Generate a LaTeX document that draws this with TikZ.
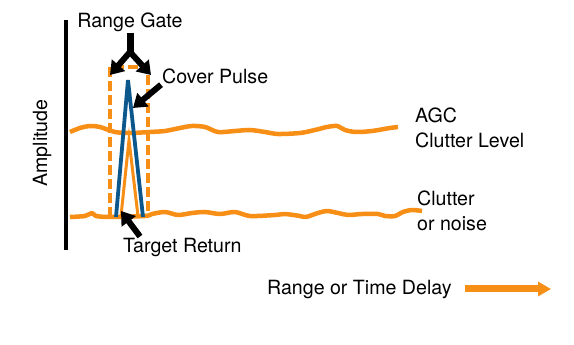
\documentclass[tikz,border=0pt]{standalone}
\usepackage{fontspec}
\setmainfont{TeX Gyre Heros}
\usetikzlibrary{arrows.meta}
\definecolor{gateorange}{RGB}{247,142,22}
\definecolor{pulseblue}{RGB}{12,88,140}
\begin{document}
\begin{tikzpicture}[x=1pt,y=1pt,
  lbl/.style={font=\fontsize{19.6}{24.5}\selectfont,inner sep=1pt,align=left},
  orangeline/.style={gateorange,line width=4.5pt,line join=round},
  fatarrow/.style={line width=6pt,-{Triangle[length=13pt,width=17pt]}}]
\useasboundingbox (0,0) rectangle (574,345);
% amplitude axis
\draw[line width=4pt] (66,325) -- (66,95);
\node[lbl,rotate=90] (amp) at (42,202) {Amplitude};
% clutter levels
\draw[orangeline] plot[smooth] coordinates {(70,213) (80,217) (90,219) (100,218) (115,213) (130,212) (150,213) (165,214) (180,217) (192,219) (205,218) (218,213) (235,214) (250,215) (265,213) (278,211) (300,212) (315,215) (327,218) (337,219) (345,215) (356,213) (372,214) (390,217) (398,218)};
\draw[orangeline] plot[smooth] coordinates {(70,128) (85,129) (92,132) (96,129) (110,128) (145,129) (152,131) (165,133) (178,130) (192,132) (205,133) (220,131) (235,133) (250,129) (275,130) (285,131) (300,129) (306,128) (318,132) (327,134) (338,132) (348,130) (362,131) (378,131) (385,129) (395,129) (403,133) (412,135) (422,134)};
% range gate
\draw[orangeline,dash pattern=on 10pt off 4pt] (110,128) -- (110,278) -- (148,278) -- (148,128);
% pulses
\draw[pulseblue,line width=3.8pt,line join=miter] (116,128) -- (128,265) -- (143,128);
\draw[gateorange,line width=3pt] (121,129) -- (129,205) -- (138,129);
% labels
\node[lbl] (gate) at (130,323) {Range Gate};
\node[lbl,anchor=west] (cover) at (161,269) {Cover Pulse};
\node[lbl,anchor=west] (target) at (122,98) {Target Return};
\node[lbl,anchor=west] (agc) at (414,217) {AGC\\Clutter Level};
\node[lbl,anchor=west] (clutter) at (416,134) {Clutter\\or noise};
\node[lbl,anchor=west] (range) at (266,56) {Range or Time Delay};
\coordinate (fork) at (130,293);
\coordinate (gl) at (110,270);
\coordinate (gr) at (151,270);
\coordinate (ctip) at (133,237);
\coordinate (ttip) at (121,134);
\coordinate (rend) at (551,56);
% pointers
\draw[line width=7pt] (gate.south) -- (fork);
\draw[fatarrow] (fork) -- (gl);
\draw[fatarrow] (fork) -- (gr);
\draw[fatarrow] (cover.south west) -- (ctip);
\draw[fatarrow] ([xshift=18pt]target.north west) -- (ttip);
\draw[gateorange,line width=7pt,-{Triangle[length=13pt,width=14pt]}] (range.east) ++(12pt,0) -- (rend);
\end{tikzpicture}
\end{document}
